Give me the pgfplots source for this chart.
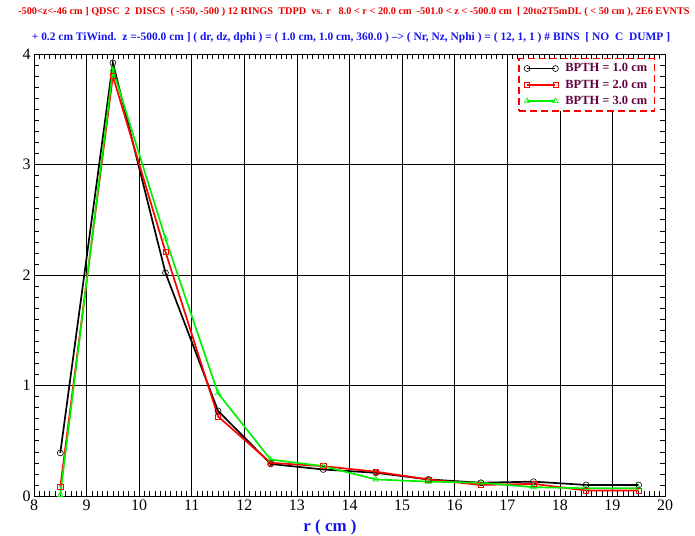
\documentclass[border=0pt]{standalone}
\usepackage{pgfplots}
\pgfplotsset{compat=1.18}
\usepackage{fontspec}
\setmainfont{Liberation Serif}
\definecolor{legtxt}{RGB}{102,0,68}
\definecolor{ttlred}{RGB}{235,0,0}
\definecolor{ttlblue}{RGB}{20,20,235}
\definecolor{lgreen}{RGB}{0,240,0}
\begin{document}
\begin{tikzpicture}
\path[use as bounding box] (-34bp,-40bp) rectangle (661bp,496bp);
\begin{axis}[
  at={(0,0)}, anchor=south west,
  scale only axis, width=631bp, height=442bp,
  xmin=8, xmax=20, ymin=0, ymax=4,
  xtick={8,9,...,20}, ytick={0,1,2,3,4},
  minor x tick num=9, minor y tick num=9,
  tick align=inside, tick pos=both,
  major tick length=8bp, minor tick length=5bp,
  grid=major,
  major grid style={black, line width=0.6pt},
  axis line style={black, line width=1pt},
  every tick/.style={black, line width=0.6pt},
  tick label style={font=\fontsize{16}{16}\selectfont},
  /pgf/number format/assume math mode=true,
  clip=false,
  legend style={at={(rel axis cs:0.984,0.991)}, anchor=north east,
    draw=red, dash pattern=on 7pt off 4pt, line width=1.4pt, fill=white,
    font=\fontsize{12.5}{15}\selectfont\bfseries\color{legtxt},
    inner xsep=5pt, inner ysep=3pt, row sep=2.5pt,
    /tikz/every odd column/.append style={column sep=5pt}},
  legend cell align=left,
  legend image code/.code={\draw[#1, solid, line width=1.8pt] (0cm,0cm) -- (1cm,0cm); \draw[#1, solid, only marks] plot coordinates {(0cm,0cm) (1cm,0cm)};},
]
\addplot[black, line width=1.7pt, mark=o, mark size=3pt, mark options={solid, line width=0.6pt}] coordinates {
(8.5,0.39) (9.5,3.92) (10.5,2.02) (11.5,0.77) (12.5,0.29) (13.5,0.24) (14.5,0.21) (15.5,0.15) (16.5,0.12) (17.5,0.13) (18.5,0.10) (19.5,0.10)};
\addlegendentry{BPTH = 1.0 cm}
\addplot[red, line width=1.7pt, mark=square, mark size=2.6pt, mark options={solid, line width=0.6pt}] coordinates {
(8.5,0.08) (9.5,3.80) (10.5,2.21) (11.5,0.72) (12.5,0.30) (13.5,0.27) (14.5,0.22) (15.5,0.15) (16.5,0.10) (17.5,0.11) (18.5,0.05) (19.5,0.05)};
\addlegendentry{BPTH = 2.0 cm}
\addplot[lgreen, line width=1.7pt, mark=triangle, mark size=3.2pt, mark options={solid, line width=0.6pt}] coordinates {
(8.5,0.01) (9.5,3.86) (10.5,2.33) (11.5,0.93) (12.5,0.33) (13.5,0.27) (14.5,0.15) (15.5,0.13) (16.5,0.12) (17.5,0.08) (18.5,0.07) (19.5,0.07)};
\addlegendentry{BPTH = 3.0 cm}
\end{axis}
\node[text=ttlred, font=\fontsize{10.3}{10}\selectfont\bfseries] at (320bp,484bp) {-500<z<-46 cm ] QDSC\ \ 2\ \ DISCS\ \ ( -550, -500 ) 12 RINGS\ \ TDPD\ \ vs. r\ \ \ 8.0 < r < 20.0 cm\ \ -501.0 < z < -500.0 cm\ \ [ 20to2T5mDL ( < 50 cm ), 2E6 EVNTS};
\node[text=ttlblue, font=\fontsize{11.5}{11}\selectfont\bfseries] at (317bp,458bp) {+ 0.2 cm TiWind.\ \ z =-500.0 cm ] ( dr, dz, dphi ) = ( 1.0 cm, 1.0 cm, 360.0 ) --> ( Nr, Nz, Nphi ) = ( 12, 1, 1 ) \# BINS\ \ [ NO\ \ C\ \ DUMP ]};
\node[text=ttlblue, font=\fontsize{17}{17}\selectfont\bfseries] at (296bp,-31bp) {r ( cm )};
\end{tikzpicture}
\end{document}
